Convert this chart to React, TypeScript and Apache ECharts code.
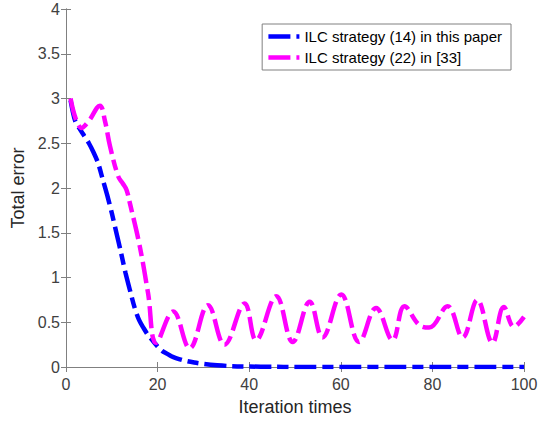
import React, { useEffect, useRef } from "react";
import * as echarts from "echarts";

const seriesNames = ["ILC strategy (14) in this paper", "ILC strategy (22) in [33]"];

// Blue: ILC strategy (14) in this paper  [iteration, total error]
const blueData: [number, number][] = [
  [1, 2.98], [2, 2.75], [3, 2.66], [4, 2.58], [5, 2.5], [6, 2.4], [7, 2.28], [8, 2.1],
  [9, 1.92], [10, 1.72], [11, 1.5], [12, 1.28], [13, 1.05], [14, 0.85], [15, 0.66],
  [16, 0.52], [17, 0.43], [18, 0.35], [19, 0.29], [20, 0.23], [21, 0.18], [22, 0.15],
  [23, 0.12], [24, 0.1], [26, 0.07], [28, 0.05], [30, 0.035], [33, 0.02], [36, 0.01],
  [40, 0.005], [45, 0.002], [50, 0], [60, 0], [70, 0], [80, 0], [90, 0], [100, 0],
];

// Magenta: ILC strategy (22) in [33]
const magentaData: [number, number][] = [
  [1, 3.0], [3.4, 2.67], [5, 2.75], [7.4, 2.92], [8.5, 2.75], [9.6, 2.47], [11.4, 2.13],
  [12.4, 2.05], [13.2, 1.98], [14, 1.82], [16.1, 1.35], [17.9, 0.83], [19.7, 0.27],
  [23.4, 0.62], [27, 0.21], [31, 0.69], [34.6, 0.25], [39, 0.71], [41.5, 0.3],
  [45.9, 0.79], [49.5, 0.28], [53.2, 0.73], [56, 0.33], [60.1, 0.81], [64, 0.28],
  [67.7, 0.66], [71.3, 0.3], [73.9, 0.68], [77.1, 0.47], [79.3, 0.44], [83.3, 0.68],
  [86.6, 0.33], [89.8, 0.75], [93.1, 0.27], [95.6, 0.67], [97.8, 0.45], [100, 0.56],
];

const xTicks = { min: 0, max: 100, interval: 20 };
const yTicks = { min: 0, max: 4, interval: 0.5 };

const FONT = "'Liberation Sans', Arial, Helvetica, sans-serif";
const AXIS_COLOR = "#808080";
const LABEL_COLOR = "#404040";
const DASH = [22, 6, 11, 6];

export default function App() {
  const ref = useRef<HTMLDivElement>(null);
  useEffect(() => {
    if (!ref.current) return;
    const chart = echarts.init(ref.current, undefined, { renderer: "svg" });
    const axisCommon = {
      type: "value" as const,
      axisLine: { show: true, lineStyle: { color: AXIS_COLOR, width: 1 } },
      axisTick: { show: true, inside: true, length: 5, lineStyle: { color: AXIS_COLOR } },
      splitLine: { show: false },
    };
    chart.setOption({
      animation: false,
      backgroundColor: "#ffffff",
      textStyle: { fontFamily: FONT },
      grid: { left: 66, right: 22, top: 9, bottom: 59, containLabel: false },
      legend: {
        orient: "vertical",
        right: 35,
        top: 24,
        padding: [5, 9, 5, 4],
        itemGap: 6,
        itemWidth: 31,
        itemHeight: 14,
        backgroundColor: "#ffffff",
        borderColor: AXIS_COLOR,
        borderWidth: 1,
        borderRadius: 0,
        textStyle: { color: "#000000", fontSize: 15, fontFamily: FONT },
        itemStyle: { color: "rgba(0,0,0,0)", borderWidth: 0, opacity: 0 },
        lineStyle: { width: 4.5, type: DASH },
        data: seriesNames,
      },
      xAxis: [
        {
          ...axisCommon,
          position: "bottom",
          ...xTicks,
          name: "Iteration times",
          nameLocation: "middle",
          nameGap: 31,
          nameTextStyle: { color: "#262626", fontSize: 18, fontFamily: FONT },
          axisLabel: { color: LABEL_COLOR, fontSize: 16, margin: 9, fontFamily: FONT },
        },
        {
          ...axisCommon,
          position: "top",
          ...xTicks,
          axisLabel: { show: false },
        },
      ],
      yAxis: [
        {
          ...axisCommon,
          position: "left",
          ...yTicks,
          name: "Total error",
          nameLocation: "middle",
          nameGap: 36,
          nameRotate: 90,
          nameTextStyle: { color: "#262626", fontSize: 18, fontFamily: FONT },
          axisLabel: { color: LABEL_COLOR, fontSize: 16, margin: 6, fontFamily: FONT },
        },
        {
          ...axisCommon,
          position: "right",
          ...yTicks,
          axisLabel: { show: false },
        },
      ],
      series: [
        {
          name: seriesNames[0],
          type: "line",
          data: blueData,
          smooth: 0.3,
          symbol: "none",
          lineStyle: { color: "#0000ff", width: 4.5, type: DASH },
          itemStyle: { color: "#0000ff" },
        },
        {
          name: seriesNames[1],
          type: "line",
          data: magentaData,
          smooth: 0.4,
          symbol: "none",
          lineStyle: { color: "#ff00ff", width: 4.5, type: DASH },
          itemStyle: { color: "#ff00ff" },
        },
      ],
    });
    return () => chart.dispose();
  }, []);
  return <div ref={ref} style={{ width: 546, height: 426, position: "absolute", left: 0, top: 0 }} />;
}
